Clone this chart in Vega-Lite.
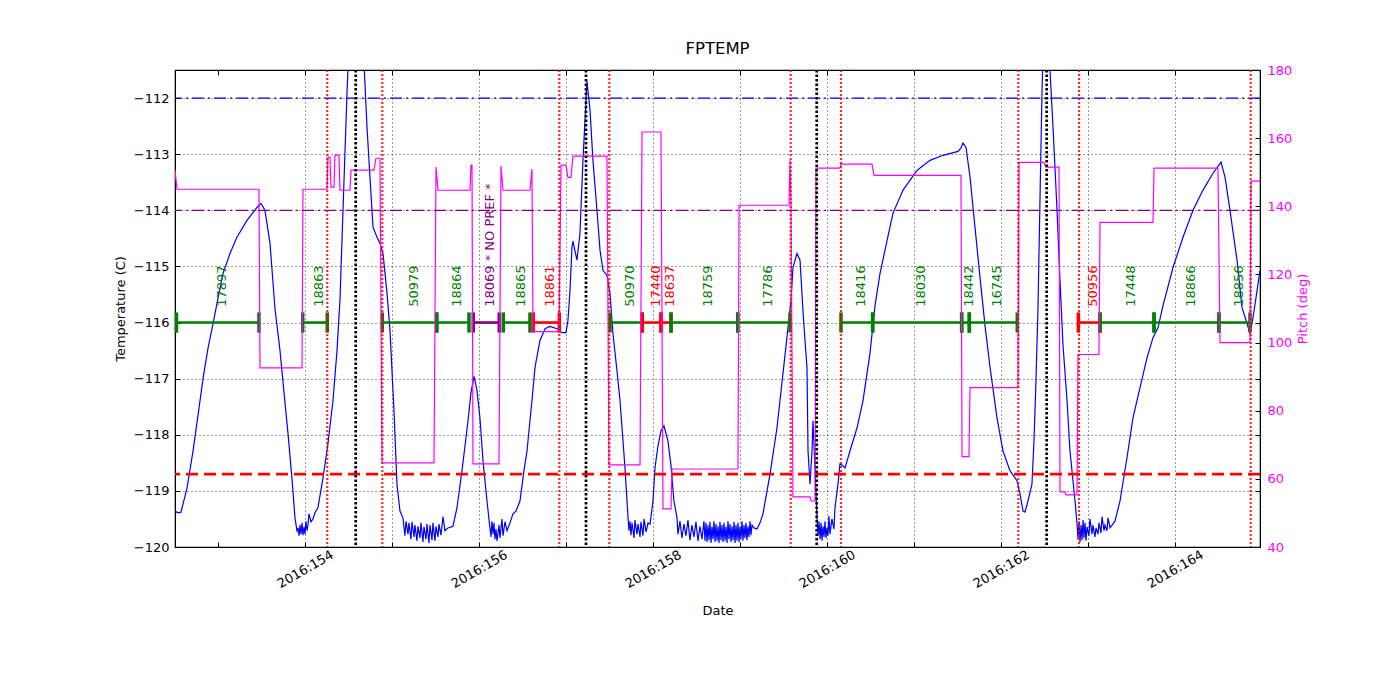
{
  "$schema": "https://vega.github.io/schema/vega-lite/v6.json",
  "width": 1085,
  "height": 477,
  "autosize": {"type": "none"},
  "padding": {"left": 175, "top": 70, "right": 140, "bottom": 153},
  "background": "white",
  "title": {"text": "FPTEMP", "fontSize": 16.5, "fontWeight": "normal", "font": "DejaVu Sans", "color": "black", "offset": 7},
  "config": {
    "font": "DejaVu Sans",
    "view": {"stroke": "black", "strokeWidth": 1.2},
    "axis": {
      "labelFont": "DejaVu Sans", "titleFont": "DejaVu Sans", "labelFontSize": 13, "titleFontSize": 13,
      "titleFontWeight": "normal", "labelColor": "black", "titleColor": "black", "domainColor": "black",
      "tickColor": "black", "tickSize": -5, "tickWidth": 1, "gridColor": "black", "gridDash": [1, 3],
      "gridWidth": 0.8, "gridOpacity": 1, "labelOverlap": false, "labelFlush": false
    }
  },
  "datasets": {
    "temp": [
      {"d":152.506,"t":-119.36},{"d":152.540,"t":-119.39},{"d":152.575,"t":-119.38},{"d":152.644,"t":-118.95},{"d":152.713,"t":-118.29},{"d":152.770,"t":-117.66},{"d":152.828,"t":-117.00},{"d":152.885,"t":-116.46},{"d":152.943,"t":-116.02},{"d":153.000,"t":-115.57},{"d":153.057,"t":-115.13},{"d":153.138,"t":-114.77},{"d":153.218,"t":-114.48},{"d":153.333,"t":-114.18},{"d":153.448,"t":-113.95},{"d":153.494,"t":-113.88},{"d":153.540,"t":-114.00},{"d":153.598,"t":-114.59},{"d":153.655,"t":-115.75},{"d":153.713,"t":-116.50},{"d":153.759,"t":-117.25},{"d":153.805,"t":-117.98},{"d":153.851,"t":-118.79},{"d":153.885,"t":-119.48},{"d":153.908,"t":-119.71},{"d":153.920,"t":-119.66},{"d":153.931,"t":-119.80},{"d":153.943,"t":-119.61},{"d":153.954,"t":-119.77},{"d":153.966,"t":-119.57},{"d":153.977,"t":-119.79},{"d":153.989,"t":-119.64},{"d":154.000,"t":-119.77},{"d":154.011,"t":-119.54},{"d":154.023,"t":-119.71},{"d":154.034,"t":-119.61},{"d":154.046,"t":-119.41},{"d":154.069,"t":-119.55},{"d":154.092,"t":-119.50},{"d":154.115,"t":-119.39},{"d":154.149,"t":-119.30},{"d":154.207,"t":-118.77},{"d":154.264,"t":-118.16},{"d":154.322,"t":-117.39},{"d":154.368,"t":-116.50},{"d":154.402,"t":-115.61},{"d":154.437,"t":-114.00},{"d":154.483,"t":-111.91},{"d":154.517,"t":-110.61},{"d":154.586,"t":-109.89},{"d":154.655,"t":-110.61},{"d":154.713,"t":-112.52},{"d":154.747,"t":-113.41},{"d":154.782,"t":-114.30},{"d":154.828,"t":-114.48},{"d":154.862,"t":-114.59},{"d":154.897,"t":-114.77},{"d":154.943,"t":-115.48},{"d":154.977,"t":-116.14},{"d":155.023,"t":-117.57},{"d":155.057,"t":-118.88},{"d":155.092,"t":-119.36},{"d":155.126,"t":-119.48},{"d":155.149,"t":-119.80},{"d":155.161,"t":-119.54},{"d":155.184,"t":-119.77},{"d":155.195,"t":-119.57},{"d":155.218,"t":-119.86},{"d":155.230,"t":-119.55},{"d":155.253,"t":-119.82},{"d":155.264,"t":-119.61},{"d":155.287,"t":-119.89},{"d":155.299,"t":-119.63},{"d":155.322,"t":-119.84},{"d":155.333,"t":-119.57},{"d":155.356,"t":-119.91},{"d":155.368,"t":-119.64},{"d":155.391,"t":-119.86},{"d":155.402,"t":-119.59},{"d":155.425,"t":-119.93},{"d":155.437,"t":-119.61},{"d":155.460,"t":-119.88},{"d":155.471,"t":-119.57},{"d":155.494,"t":-119.89},{"d":155.506,"t":-119.63},{"d":155.529,"t":-119.82},{"d":155.540,"t":-119.59},{"d":155.563,"t":-119.79},{"d":155.586,"t":-119.46},{"d":155.609,"t":-119.71},{"d":155.644,"t":-119.66},{"d":155.701,"t":-119.63},{"d":155.747,"t":-119.30},{"d":155.805,"t":-118.64},{"d":155.874,"t":-117.75},{"d":155.908,"t":-117.25},{"d":155.943,"t":-116.96},{"d":155.977,"t":-117.21},{"d":156.011,"t":-117.70},{"d":156.046,"t":-118.46},{"d":156.092,"t":-119.18},{"d":156.126,"t":-119.66},{"d":156.138,"t":-119.82},{"d":156.149,"t":-119.54},{"d":156.161,"t":-119.77},{"d":156.172,"t":-119.57},{"d":156.184,"t":-119.86},{"d":156.195,"t":-119.68},{"d":156.207,"t":-119.89},{"d":156.230,"t":-119.61},{"d":156.241,"t":-119.84},{"d":156.264,"t":-119.50},{"d":156.276,"t":-119.80},{"d":156.299,"t":-119.55},{"d":156.322,"t":-119.71},{"d":156.356,"t":-119.57},{"d":156.391,"t":-119.41},{"d":156.425,"t":-119.36},{"d":156.471,"t":-119.18},{"d":156.517,"t":-118.64},{"d":156.552,"t":-118.29},{"d":156.586,"t":-117.75},{"d":156.609,"t":-117.39},{"d":156.644,"t":-116.80},{"d":156.701,"t":-116.32},{"d":156.759,"t":-116.11},{"d":156.816,"t":-116.07},{"d":156.897,"t":-116.11},{"d":156.954,"t":-116.18},{"d":157.000,"t":-116.18},{"d":157.023,"t":-115.96},{"d":157.046,"t":-115.43},{"d":157.069,"t":-114.66},{"d":157.080,"t":-114.55},{"d":157.126,"t":-114.89},{"d":157.161,"t":-114.41},{"d":157.195,"t":-113.11},{"d":157.230,"t":-112.04},{"d":157.241,"t":-111.70},{"d":157.276,"t":-112.21},{"d":157.310,"t":-113.11},{"d":157.356,"t":-114.00},{"d":157.391,"t":-114.71},{"d":157.425,"t":-115.07},{"d":157.471,"t":-115.16},{"d":157.506,"t":-115.48},{"d":157.540,"t":-116.20},{"d":157.586,"t":-116.86},{"d":157.621,"t":-117.39},{"d":157.678,"t":-118.59},{"d":157.713,"t":-119.48},{"d":157.724,"t":-119.71},{"d":157.736,"t":-119.54},{"d":157.747,"t":-119.79},{"d":157.759,"t":-119.57},{"d":157.782,"t":-119.84},{"d":157.793,"t":-119.52},{"d":157.816,"t":-119.77},{"d":157.828,"t":-119.59},{"d":157.851,"t":-119.82},{"d":157.862,"t":-119.55},{"d":157.885,"t":-119.80},{"d":157.897,"t":-119.50},{"d":157.920,"t":-119.73},{"d":157.943,"t":-119.57},{"d":157.966,"t":-119.59},{"d":158.000,"t":-119.18},{"d":158.023,"t":-118.59},{"d":158.057,"t":-118.20},{"d":158.092,"t":-117.93},{"d":158.126,"t":-117.84},{"d":158.172,"t":-118.11},{"d":158.207,"t":-118.55},{"d":158.241,"t":-119.18},{"d":158.276,"t":-119.48},
      {"d":158.287,"t":-119.77},{"d":158.310,"t":-119.54},{"d":158.333,"t":-119.84},{"d":158.356,"t":-119.59},{"d":158.379,"t":-119.80},{"d":158.402,"t":-119.52},{"d":158.425,"t":-119.88},{"d":158.448,"t":-119.61},{"d":158.471,"t":-119.82},{"d":158.494,"t":-119.55},{"d":158.517,"t":-119.89},{"d":158.540,"t":-119.63},{"d":158.563,"t":-119.86},{"d":158.586,"t":-119.54},{"d":158.598,"t":-119.89},{"d":158.609,"t":-119.57},{"d":158.621,"t":-119.91},{"d":158.632,"t":-119.61},{"d":158.644,"t":-119.88},{"d":158.655,"t":-119.55},{"d":158.667,"t":-119.93},{"d":158.678,"t":-119.64},{"d":158.690,"t":-119.86},{"d":158.701,"t":-119.54},{"d":158.713,"t":-119.91},{"d":158.724,"t":-119.59},{"d":158.736,"t":-119.89},{"d":158.747,"t":-119.63},{"d":158.759,"t":-119.93},{"d":158.770,"t":-119.55},{"d":158.782,"t":-119.88},{"d":158.793,"t":-119.61},{"d":158.805,"t":-119.91},{"d":158.816,"t":-119.57},{"d":158.828,"t":-119.89},{"d":158.839,"t":-119.64},{"d":158.851,"t":-119.93},{"d":158.862,"t":-119.54},{"d":158.874,"t":-119.86},{"d":158.885,"t":-119.59},{"d":158.897,"t":-119.91},{"d":158.908,"t":-119.63},{"d":158.920,"t":-119.88},{"d":158.931,"t":-119.55},{"d":158.943,"t":-119.93},{"d":158.954,"t":-119.61},{"d":158.966,"t":-119.89},{"d":158.977,"t":-119.57},{"d":158.989,"t":-119.91},{"d":159.000,"t":-119.64},{"d":159.011,"t":-119.86},{"d":159.023,"t":-119.54},{"d":159.034,"t":-119.89},{"d":159.046,"t":-119.61},{"d":159.057,"t":-119.84},{"d":159.069,"t":-119.57},{"d":159.080,"t":-119.88},{"d":159.092,"t":-119.63},{"d":159.103,"t":-119.82},{"d":159.115,"t":-119.54},{"d":159.126,"t":-119.79},{"d":159.138,"t":-119.61},{"d":159.161,"t":-119.66},{"d":159.195,"t":-119.68},{"d":159.230,"t":-119.57},{"d":159.264,"t":-119.41},
      {"d":159.345,"t":-118.70},{"d":159.425,"t":-117.88},{"d":159.494,"t":-116.91},{"d":159.552,"t":-116.09},{"d":159.586,"t":-115.61},{"d":159.609,"t":-115.02},{"d":159.655,"t":-114.77},{"d":159.690,"t":-114.89},{"d":159.724,"t":-115.79},{"d":159.747,"t":-116.32},{"d":159.770,"t":-116.80},{"d":159.782,"t":-118.29},{"d":159.805,"t":-118.88},{"d":159.828,"t":-118.29},{"d":159.839,"t":-117.75},{"d":159.862,"t":-118.59},{"d":159.885,"t":-119.48},{"d":159.897,"t":-119.80},{"d":159.908,"t":-119.54},{"d":159.920,"t":-119.86},{"d":159.931,"t":-119.57},{"d":159.943,"t":-119.89},{"d":159.954,"t":-119.63},{"d":159.966,"t":-119.82},{"d":159.977,"t":-119.54},{"d":159.989,"t":-119.84},{"d":160.000,"t":-119.66},{"d":160.011,"t":-119.80},{"d":160.023,"t":-119.45},{"d":160.034,"t":-119.77},{"d":160.057,"t":-119.50},{"d":160.080,"t":-119.68},{"d":160.092,"t":-119.30},{"d":160.126,"t":-118.88},{"d":160.149,"t":-118.52},{"d":160.172,"t":-118.54},{"d":160.207,"t":-118.59},{"d":160.264,"t":-118.29},{"d":160.345,"t":-117.88},{"d":160.414,"t":-117.39},{"d":160.494,"t":-116.55},{"d":160.552,"t":-115.70},{"d":160.609,"t":-115.13},{"d":160.690,"t":-114.54},{"d":160.759,"t":-114.05},{"d":160.874,"t":-113.64},{"d":161.034,"t":-113.29},{"d":161.184,"t":-113.11},{"d":161.333,"t":-113.02},{"d":161.506,"t":-112.95},{"d":161.540,"t":-112.89},{"d":161.563,"t":-112.80},{"d":161.598,"t":-112.88},{"d":161.644,"t":-113.41},{"d":161.701,"t":-114.30},{"d":161.759,"t":-115.20},{"d":161.816,"t":-116.05},{"d":161.874,"t":-116.80},{"d":161.954,"t":-117.70},{"d":162.023,"t":-118.29},{"d":162.103,"t":-118.64},{"d":162.184,"t":-118.82},{"d":162.218,"t":-119.05},{"d":162.253,"t":-119.36},{"d":162.276,"t":-119.38},{"d":162.310,"t":-119.18},{"d":162.356,"t":-118.88},{"d":162.379,"t":-118.11},{"d":162.402,"t":-117.04},{"d":162.425,"t":-115.75},{"d":162.448,"t":-113.82},{"d":162.471,"t":-111.91},{"d":162.494,"t":-110.61},{"d":162.517,"t":-109.89},{"d":162.540,"t":-110.43},{"d":162.563,"t":-111.50},{"d":162.598,"t":-112.52},{"d":162.644,"t":-114.00},{"d":162.678,"t":-115.25},{"d":162.713,"t":-116.41},{"d":162.759,"t":-117.39},{"d":162.793,"t":-118.29},{"d":162.851,"t":-119.18},{"d":162.874,"t":-119.59},{"d":162.885,"t":-119.86},{"d":162.897,"t":-119.54},{"d":162.908,"t":-119.91},{"d":162.920,"t":-119.61},{"d":162.931,"t":-119.88},{"d":162.943,"t":-119.52},{"d":162.954,"t":-119.84},{"d":162.966,"t":-119.57},{"d":162.977,"t":-119.89},{"d":162.989,"t":-119.64},{"d":163.011,"t":-119.80},{"d":163.023,"t":-119.50},{"d":163.046,"t":-119.77},{"d":163.057,"t":-119.61},{"d":163.080,"t":-119.82},{"d":163.092,"t":-119.66},{"d":163.115,"t":-119.77},{"d":163.126,"t":-119.57},{"d":163.149,"t":-119.75},{"d":163.161,"t":-119.46},{"d":163.184,"t":-119.71},{"d":163.195,"t":-119.61},{"d":163.218,"t":-119.71},{"d":163.230,"t":-119.48},{"d":163.253,"t":-119.66},{"d":163.310,"t":-119.54},{"d":163.368,"t":-119.18},{"d":163.448,"t":-118.41},{"d":163.517,"t":-117.70},{"d":163.598,"t":-117.16},{"d":163.678,"t":-116.63},{"d":163.747,"t":-116.27},{"d":163.805,"t":-116.09},{"d":163.862,"t":-115.70},{"d":163.977,"t":-115.02},{"d":164.092,"t":-114.48},{"d":164.207,"t":-114.00},{"d":164.322,"t":-113.64},{"d":164.437,"t":-113.34},{"d":164.529,"t":-113.14},{"d":164.575,"t":-113.41},{"d":164.632,"t":-114.00},{"d":164.713,"t":-114.89},{"d":164.770,"t":-115.73},{"d":164.828,"t":-116.02},{"d":164.862,"t":-116.20},{"d":164.897,"t":-115.91},{"d":164.943,"t":-115.43},{"d":164.977,"t":-115.07}
    ],
    "pitch": [
      {"d":152.506,"p":150.6},{"d":152.529,"p":145.0},{"d":153.471,"p":145.0},{"d":153.483,"p":92.6},{"d":153.966,"p":92.6},{"d":153.977,"p":145.0},{"d":154.253,"p":145.0},{"d":154.264,"p":154.4},{"d":154.287,"p":154.4},{"d":154.299,"p":145.6},{"d":154.333,"p":145.6},{"d":154.345,"p":155.0},{"d":154.391,"p":155.0},{"d":154.402,"p":144.7},{"d":154.517,"p":144.7},{"d":154.529,"p":150.6},{"d":154.793,"p":150.6},{"d":154.816,"p":154.1},{"d":154.862,"p":154.1},{"d":154.885,"p":64.7},{"d":155.483,"p":64.7},{"d":155.506,"p":151.5},{"d":155.529,"p":144.7},{"d":155.897,"p":144.7},{"d":155.908,"p":152.1},{"d":155.920,"p":152.1},{"d":155.931,"p":64.4},{"d":156.230,"p":64.4},{"d":156.253,"p":151.8},{"d":156.276,"p":144.7},{"d":156.586,"p":144.7},{"d":156.609,"p":150.9},{"d":156.621,"p":103.2},{"d":156.920,"p":103.2},{"d":156.943,"p":152.1},{"d":157.000,"p":152.1},{"d":157.023,"p":148.5},{"d":157.057,"p":148.5},{"d":157.080,"p":154.7},{"d":157.471,"p":154.7},{"d":157.494,"p":64.1},{"d":157.851,"p":64.1},{"d":157.874,"p":161.8},{"d":158.092,"p":161.8},{"d":158.115,"p":51.2},{"d":158.207,"p":51.2},{"d":158.218,"p":62.9},{"d":158.977,"p":62.9},{"d":158.989,"p":140.3},{"d":159.563,"p":140.3},{"d":159.575,"p":153.5},{"d":159.586,"p":140.3},{"d":159.609,"p":54.7},{"d":159.805,"p":54.7},{"d":159.816,"p":53.5},{"d":159.862,"p":53.5},{"d":159.874,"p":151.2},{"d":160.149,"p":151.2},{"d":160.161,"p":152.4},{"d":160.517,"p":152.4},{"d":160.540,"p":149.1},{"d":161.540,"p":149.1},{"d":161.552,"p":66.5},{"d":161.632,"p":66.5},{"d":161.644,"p":86.8},{"d":162.195,"p":86.8},{"d":162.207,"p":152.9},{"d":162.494,"p":152.9},{"d":162.517,"p":151.5},{"d":162.667,"p":151.5},{"d":162.678,"p":56.2},{"d":162.736,"p":56.2},{"d":162.747,"p":55.3},{"d":162.874,"p":55.3},{"d":162.885,"p":96.5},{"d":163.126,"p":96.5},{"d":163.138,"p":135.3},{"d":163.747,"p":135.3},{"d":163.759,"p":151.2},{"d":164.494,"p":151.2},{"d":164.517,"p":100.0},{"d":164.862,"p":100.0},{"d":164.874,"p":147.4},{"d":164.977,"p":147.4}
    ],
    "segs": [
      {"start":152.523,"end":153.471,"label":"17897","kind":"ok"},
      {"start":153.974,"end":154.256,"label":"18863","kind":"ok"},
      {"start":154.889,"end":155.514,"label":"50979","kind":"ok"},
      {"start":155.514,"end":155.885,"label":"18864","kind":"ok"},
      {"start":155.934,"end":156.233,"label":"18069 * NO PREF *","kind":"nopref"},
      {"start":156.279,"end":156.586,"label":"18865","kind":"ok"},
      {"start":156.624,"end":156.923,"label":"18861","kind":"bad"},
      {"start":157.506,"end":157.877,"label":"50970","kind":"ok"},
      {"start":157.877,"end":158.092,"label":"17440","kind":"bad"},
      {"start":158.092,"end":158.207,"label":"18637","kind":"bad"},
      {"start":158.207,"end":158.974,"label":"18759","kind":"ok"},
      {"start":158.974,"end":159.575,"label":"17786","kind":"ok"},
      {"start":160.161,"end":160.525,"label":"18416","kind":"ok"},
      {"start":160.525,"end":161.548,"label":"18030","kind":"ok"},
      {"start":161.548,"end":161.636,"label":"18442","kind":"ok"},
      {"start":161.636,"end":162.187,"label":"16745","kind":"ok"},
      {"start":162.889,"end":163.138,"label":"50956","kind":"bad"},
      {"start":163.138,"end":163.759,"label":"17448","kind":"ok"},
      {"start":163.759,"end":164.506,"label":"18866","kind":"ok"},
      {"start":164.506,"end":164.862,"label":"18856","kind":"ok"}
    ],
    "redlines": [
      {"d":154.256},{"d":154.889},{"d":156.923},{"d":157.498},{"d":159.583},{"d":160.161},{"d":162.199},{"d":162.897},{"d":164.870}
    ],
    "blacklines": [
      {"d":154.583},{"d":157.230},{"d":159.882},{"d":162.525}
    ]
  },
  "resolve": {"scale": {"y": "independent"}, "axis": {"x": "independent", "y": "independent"}},
  "layer": [
    {
      "layer": [
        {
          "data": {"name": "temp"},
          "mark": {"type": "line", "color": "#0000ff", "strokeWidth": 1.2, "clip": true},
          "encoding": {
            "x": {"field": "d", "type": "quantitative", "scale": {"domain": [152.506, 164.977], "nice": false, "zero": false},
              "axis": {"orient": "bottom", "title": "Date", "values": [153,154,155,156,157,158,159,160,161,162,163,164],
                "labelExpr": "datum.value % 2 == 0 ? '2016:' + datum.value : ''",
                "labelAngle": -30, "labelAlign": "center", "labelBaseline": "middle", "labelPadding": 27,
                "grid": true, "gridOpacity": {"condition": {"test": "datum.value == 153", "value": 0}, "value": 1},
                "titleX": 542.5, "titleY": 63, "titleBaseline": "middle", "titleAlign": "center"}},
            "y": {"field": "t", "type": "quantitative", "scale": {"domain": [-120, -111.5], "nice": false, "zero": false},
              "axis": {"orient": "left", "title": "Temperature (C)", "values": [-120,-119,-118,-117,-116,-115,-114,-113,-112],
                "labelExpr": "'\u2212' + abs(datum.value)", "grid": true, "labelPadding": 11,
                "titleX": -55, "titleY": 238.5, "titleAngle": 270, "titleBaseline": "middle", "titleAlign": "center"}}
          }
        },
        {
          "data": {"name": "segs"},
          "mark": {"type": "rule", "strokeWidth": 2.6},
          "encoding": {
            "x": {"field": "start", "type": "quantitative", "scale": {"domain": [152.506, 164.977], "nice": false, "zero": false}},
            "x2": {"field": "end"},
            "y": {"datum": -116, "type": "quantitative"},
            "color": {"field": "kind", "type": "nominal", "scale": {"domain": ["ok", "bad", "nopref"], "range": ["#008000", "#ff0000", "#800080"]}, "legend": null}
          }
        },
        {
          "data": {"name": "segs"},
          "transform": [{"fold": ["start", "end"], "as": ["which", "pos"]}],
          "mark": {"type": "rule", "strokeWidth": 3.5},
          "encoding": {
            "x": {"field": "pos", "type": "quantitative", "scale": {"domain": [152.506, 164.977], "nice": false, "zero": false}},
            "y": {"datum": -115.82, "type": "quantitative"},
            "y2": {"datum": -116.18},
            "color": {"field": "kind", "type": "nominal", "scale": {"domain": ["ok", "bad", "nopref"], "range": ["#008000", "#ff0000", "#800080"]}, "legend": null}
          }
        },
        {
          "data": {"name": "segs"},
          "transform": [{"fold": ["start", "end"], "as": ["which", "pos"]}],
          "mark": {"type": "text", "angle": 270, "align": "left", "baseline": "middle", "dy": 4, "fontSize": 13, "font": "DejaVu Sans"},
          "encoding": {
            "x": {"aggregate": "mean", "field": "pos", "type": "quantitative", "scale": {"domain": [152.506, 164.977], "nice": false, "zero": false}},
            "y": {"datum": -115.72, "type": "quantitative"},
            "text": {"field": "label"},
            "color": {"field": "kind", "type": "nominal", "scale": {"domain": ["ok", "bad", "nopref"], "range": ["#008000", "#ff0000", "#800080"]}, "legend": null}
          }
        }
      ]
    },
    {
      "data": {"name": "pitch"},
      "mark": {"type": "line", "color": "#ff00ff", "strokeWidth": 1.2, "clip": true},
      "encoding": {
        "x": {"field": "d", "type": "quantitative", "scale": {"domain": [152.506, 164.977], "nice": false, "zero": false},
          "axis": {"orient": "top", "labels": false, "title": null, "grid": false, "domain": false, "values": [153,154,155,156,157,158,159,160,161,162,163,164]}},
        "y": {"field": "p", "type": "quantitative", "scale": {"domain": [40, 180], "nice": false, "zero": false},
          "axis": {"orient": "right", "title": "Pitch (deg)", "values": [40,60,80,100,120,140,160,180], "grid": false,
            "labelColor": "#ff00ff", "titleColor": "#ff00ff", "labelPadding": 12,
            "titleX": 42, "titleY": 238.5, "titleAngle": 270, "titleBaseline": "middle", "titleAlign": "center"}}
      }
    },
    {
      "layer": [
        {
          "data": {"values": [{}]},
          "mark": {"type": "rule", "color": "#0000ff", "strokeWidth": 1.3, "strokeDash": [12, 4, 2, 4]},
          "encoding": {"y": {"datum": -112, "type": "quantitative", "scale": {"domain": [-120, -111.5], "nice": false, "zero": false},
            "axis": {"orient": "right", "labels": false, "title": null, "grid": false, "domain": false, "values": [-120,-119,-118,-117,-116,-115,-114,-113,-112]}}}
        },
        {
          "data": {"values": [{}]},
          "mark": {"type": "rule", "color": "#800080", "strokeWidth": 1.3, "strokeDash": [12, 4, 2, 4]},
          "encoding": {"y": {"datum": -114, "type": "quantitative"}}
        },
        {
          "data": {"values": [{}]},
          "mark": {"type": "rule", "color": "#ff0000", "strokeWidth": 2.7, "strokeDash": [12, 6]},
          "encoding": {"y": {"datum": -118.7, "type": "quantitative"}}
        },
        {
          "data": {"name": "redlines"},
          "mark": {"type": "rule", "color": "#ff0000", "strokeWidth": 2.2, "strokeDash": [2, 2], "opacity": 0.85},
          "encoding": {"x": {"field": "d", "type": "quantitative", "scale": {"domain": [152.506, 164.977], "nice": false, "zero": false}, "axis": null}}
        },
        {
          "data": {"name": "blacklines"},
          "mark": {"type": "rule", "color": "#000000", "strokeWidth": 2.7, "strokeDash": [2.5, 2]},
          "encoding": {"x": {"field": "d", "type": "quantitative", "scale": {"domain": [152.506, 164.977], "nice": false, "zero": false}, "axis": null}}
        }
      ]
    }
  ]
}
